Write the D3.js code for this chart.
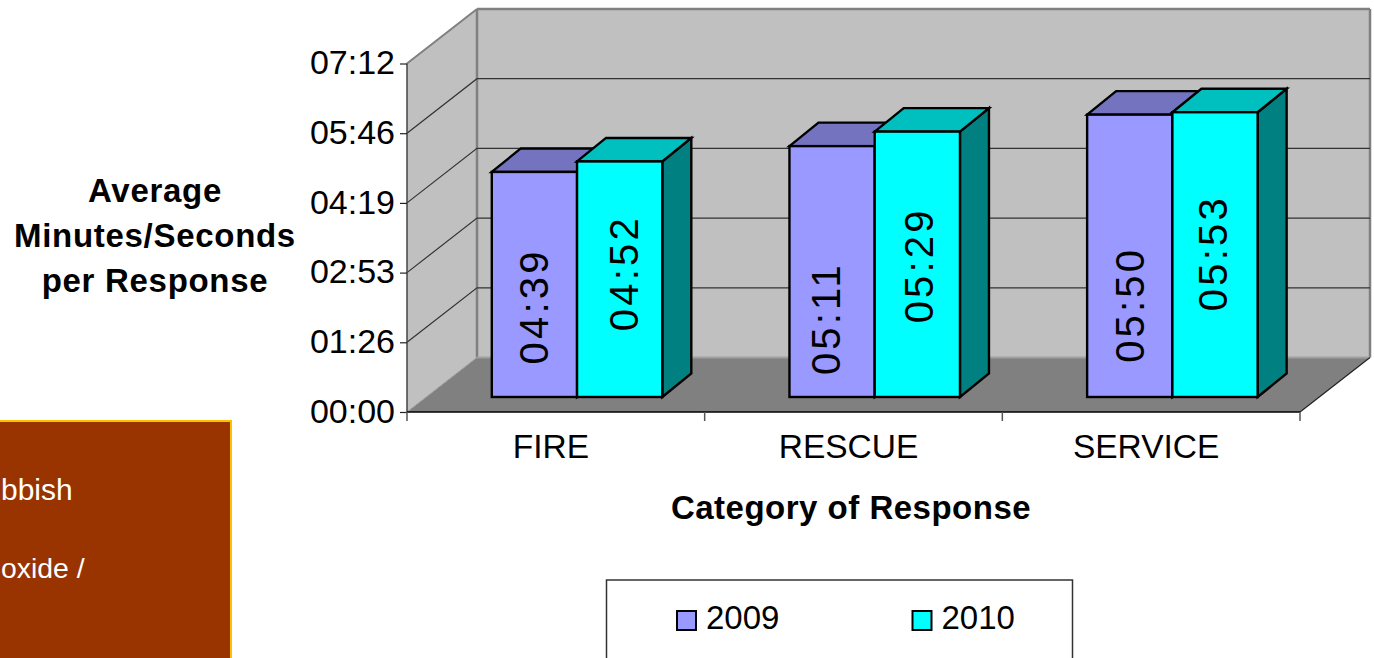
<!DOCTYPE html>
<html><head><meta charset="utf-8">
<script src="https://cdn.jsdelivr.net/npm/d3@7/dist/d3.min.js"></script>
<style>html,body{margin:0;padding:0;background:#fff;overflow:hidden}svg{display:block}text{font-family:"Liberation Sans",Arial,sans-serif}</style>
</head><body><script>
const categories = ["FIRE","RESCUE","SERVICE"];
const seriesNames = ["2009","2010"];
const values2009 = ["04:39","05:11","05:50"];
const values2010 = ["04:52","05:29","05:53"];
const tickLabels = ["00:00","01:26","02:53","04:19","05:46","07:12"];
const tickSeconds = [0,86.4,172.8,259.2,345.6,432];
const titleLines = ["Average","Minutes/Seconds","per Response"];
const sideNotes = ["bbish","oxide /"];

const secs = s => { const [m,n] = s.split(":").map(Number); return m*60+n; };
const W=1374,H=658;
const svg = d3.select("body").append("svg").attr("width",W).attr("height",H);

const y = d3.scaleLinear().domain([0,432]).range([412,63.5]);
const x = d3.scaleBand().domain(categories).range([407,1300]);
const DX=70, DY=-54.5;        // wall depth
const barShift=[20.5,-15];    // bar plane inside the depth
const barD=[29,-23.5];        // bar depth
const sub = d3.scaleBand().domain(seriesNames).range([64.3,234.8]);

// floor + walls
const poly = (pts,fill,stroke,sw)=>svg.append("polygon").attr("points",pts.map(p=>p.join(",")).join(" ")).attr("fill",fill).attr("stroke",stroke||"none").attr("stroke-width",sw||0);
const x0=x.range()[0], x1=x.range()[1], yB=y(0), yT=y(432);
poly([[x0,yB],[x0+DX,yB+DY],[x1+DX,yB+DY],[x1,yB]],"#808080");
poly([[x0,yB],[x0+DX,yB+DY],[x0+DX,yT+DY],[x0,yT]],"#c0c0c0");
poly([[x0+DX,yB+DY],[x1+DX,yB+DY],[x1+DX,yT+DY],[x0+DX,yT+DY]],"#c0c0c0");
// wall edges
const edge=(a,b,c,w)=>svg.append("line").attr("x1",a[0]).attr("y1",a[1]).attr("x2",b[0]).attr("y2",b[1]).attr("stroke",c).attr("stroke-width",w);
edge([x0+DX,yB+DY],[x0+DX,yT+DY],"#808080",2.5);
edge([x0+DX,yT+DY],[x1+DX,yT+DY],"#808080",2.5);
edge([x1+DX,yT+DY],[x1+DX,yB+DY],"#808080",2.5);
edge([x0,yT],[x0+DX,yT+DY],"#808080",2);
edge([x0+DX,yB+DY],[x1+DX,yB+DY],"#a0a0a0",2);
// gridlines
tickSeconds.slice(1,-1).forEach(t=>{
  const p=y(t);
  svg.append("polyline").attr("points",[[x0,p],[x0+DX,p+DY],[x1+DX,p+DY]].map(q=>q.join(",")).join(" ")).attr("fill","none").attr("stroke","#333").attr("stroke-width",1.2);
});
edge([x1,yB],[x1+DX,yB+DY],"#222",1.2);
edge([x0,yB],[x0+DX,yB+DY],"#999",1);

// bars
const colours={ "2009":{front:"#9999ff",top:"#7373bf",side:"#5c5c99"}, "2010":{front:"#00ffff",top:"#00bfbf",side:"#008080"} };
const rows=seriesNames.flatMap((s,si)=>categories.map((c,ci)=>({s,c,v:(si?values2010:values2009)[ci]})));
const labelNudge={"04:39":[14,22],"04:52":[18,-6],"05:11":[8,47],"05:29":[16,1],"05:50":[14,49],"05:53":[12,-1.5]};
const g=svg.append("g");
rows.forEach(d=>{
  const l=x(d.c)+sub(d.s)+barShift[0], r=l+sub.bandwidth();
  const t=y(secs(d.v))+barShift[1], b=y(0)+barShift[1];
  const col=colours[d.s];
  const sty=(sel,f)=>sel.attr("fill",f).attr("stroke","#000").attr("stroke-width",2.4).attr("stroke-linejoin","miter");
  const pg=pts=>g.append("polygon").attr("points",pts.map(p=>p.join(",")).join(" "));
  sty(pg([[r,b],[r+barD[0],b+barD[1]],[r+barD[0],t+barD[1]],[r,t]]),col.side);
  sty(pg([[l,t],[l+barD[0],t+barD[1]],[r+barD[0],t+barD[1]],[r,t]]),col.top);
  sty(g.append("rect").attr("x",l).attr("y",t).attr("width",r-l).attr("height",b-t),col.front);
});
rows.forEach(d=>{
  const l=x(d.c)+sub(d.s)+barShift[0], cx=l+sub.bandwidth()/2;
  const t=y(secs(d.v))+barShift[1], b=y(0)+barShift[1];
  const n=labelNudge[d.v];
  g.append("text").attr("transform",`translate(${cx+n[0]},${(t+b)/2+n[1]}) rotate(-90)`).attr("text-anchor","middle").attr("font-size",40).attr("letter-spacing",3.2).attr("fill","#000").text(d.v);
});

// axes
const yAxis=d3.axisLeft(y).tickValues(tickSeconds).tickFormat((d,i)=>tickLabels[i]).tickSize(7).tickPadding(5);
const ya=svg.append("g").attr("transform",`translate(${x0},0)`).call(yAxis);
ya.selectAll("text").attr("font-size",34).attr("fill","#000").attr("font-family",null).attr("dy","0.3em");
ya.selectAll("line").attr("stroke","#222").attr("stroke-width",1.2);
ya.select(".domain").attr("stroke","#444").attr("stroke-width",1.5).attr("d",`M0,${y(432)}V${y(0)}`);

const xAxis=d3.axisBottom(x).tickSize(0).tickPadding(22);
const xa=svg.append("g").attr("transform",`translate(0,${yB})`).call(xAxis);
xa.selectAll("text").attr("font-size",33.5).attr("fill","#000").attr("font-family",null).attr("dx",-5);
xa.select(".domain").attr("stroke","#000").attr("stroke-width",1.5).attr("d",`M${x0},0H${x1}`);
[...categories.map(c=>x(c)),x1].forEach(v=>xa.append("line").attr("x1",v).attr("x2",v).attr("y1",0).attr("y2",9).attr("stroke","#555").attr("stroke-width",1.5));

// titles
svg.append("text").attr("x",851).attr("y",519).attr("text-anchor","middle").attr("font-size",33).attr("letter-spacing",0.5).attr("font-weight","bold").text("Category of Response");
titleLines.forEach((s,i)=>svg.append("text").attr("x",155).attr("y",202+i*45).attr("text-anchor","middle").attr("font-size",33).attr("letter-spacing",0.7).attr("font-weight","bold").text(s));

// side panel
svg.append("rect").attr("x",-4).attr("y",421).attr("width",235).attr("height",250).attr("fill","#993300").attr("stroke","#ffc000").attr("stroke-width",2);
sideNotes.forEach((s,i)=>svg.append("text").attr("x",1).attr("y",i?578:500).attr("font-size",i?28.4:30).attr("fill","#fff").text(s));

// legend
svg.append("rect").attr("x",606.5).attr("y",580).attr("width",466).attr("height",90).attr("fill","#fff").attr("stroke","#333").attr("stroke-width",1.5);
const lx=d3.scalePoint().domain(seriesNames).range([677,912.5]);
seriesNames.forEach(s=>{
  svg.append("rect").attr("x",lx(s)).attr("y",611).attr("width",19).attr("height",19).attr("fill",colours[s].front).attr("stroke","#000").attr("stroke-width",2);
  svg.append("text").attr("x",lx(s)+29).attr("y",629).attr("font-size",33).attr("fill","#000").text(s);
});
</script></body></html>
